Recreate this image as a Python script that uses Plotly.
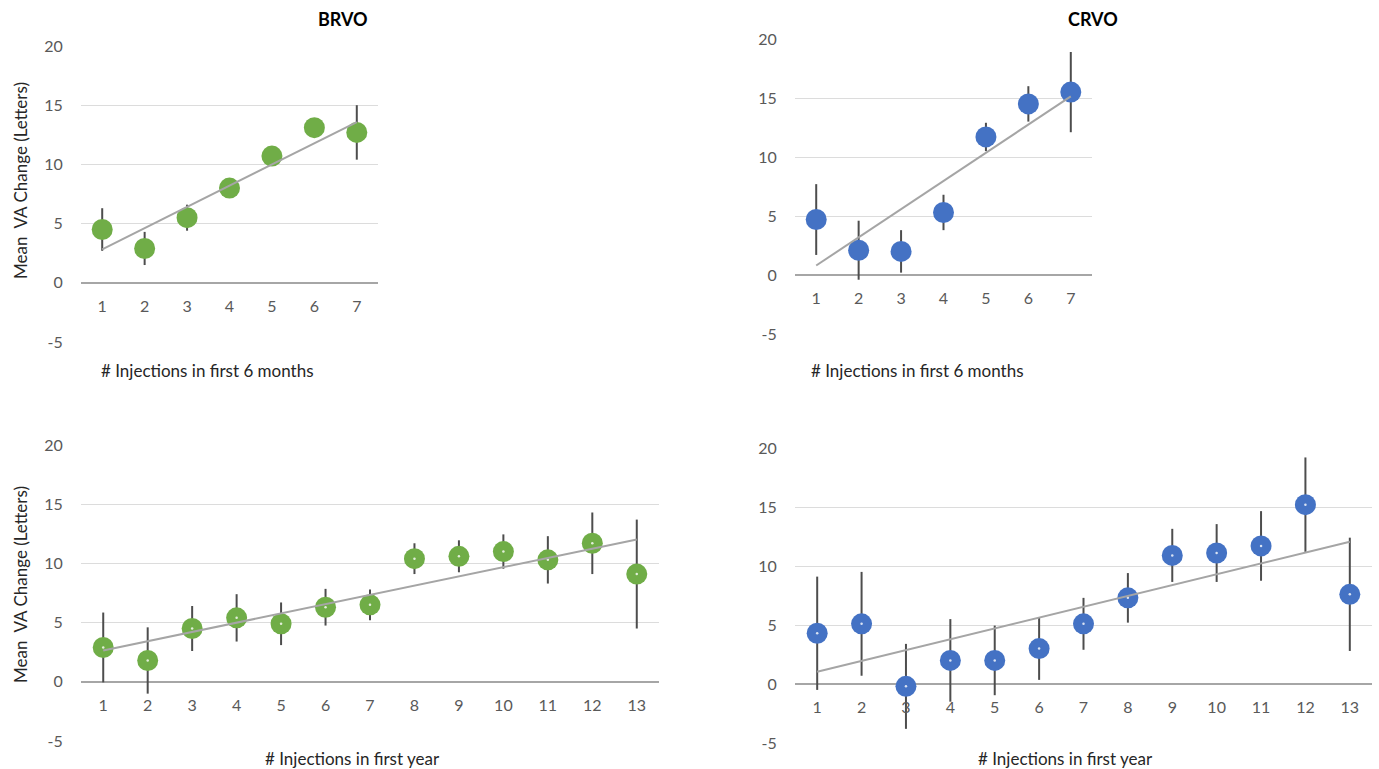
import numpy as np
import plotly.graph_objects as go

# ---------------- data ----------------
inj_6m = [1, 2, 3, 4, 5, 6, 7]
inj_1y = [1, 2, 3, 4, 5, 6, 7, 8, 9, 10, 11, 12, 13]

brvo_6m_mean = [4.5, 2.9, 5.5, 8.0, 10.7, 13.1, 12.7]
brvo_6m_err = [1.8, 1.4, 1.1, 0.7, 0.7, 0.7, 2.3]

crvo_6m_mean = [4.7, 2.1, 2.0, 5.3, 11.7, 14.5, 15.5]
crvo_6m_err = [3.0, 2.5, 1.8, 1.5, 1.2, 1.5, 3.4]

brvo_1y_mean = [2.9, 1.8, 4.5, 5.4, 4.9, 6.3, 6.5, 10.4, 10.6, 11.0, 10.3, 11.7, 9.1]
brvo_1y_err = [2.95, 2.8, 1.9, 2.0, 1.8, 1.55, 1.3, 1.3, 1.35, 1.45, 2.0, 2.6, 4.6]

crvo_1y_mean = [4.3, 5.1, -0.2, 2.0, 2.0, 3.0, 5.1, 7.3, 10.9, 11.1, 11.7, 15.2, 7.6]
crvo_1y_err = [4.8, 4.4, 3.6, 3.5, 2.95, 2.65, 2.2, 2.1, 2.25, 2.45, 2.95, 4.0, 4.8]

y_ticks = [-5, 0, 5, 10, 15, 20]
y_ticklabels = ["-5", "0", "5", "10", "15", "20"]
y_title = "Mean  VA Change (Letters)"
x_title_6m = "# Injections in first 6 months"
x_title_1y = "# Injections in first year"
titles = ["BRVO", "CRVO"]

GREEN = "#70AD47"
BLUE = "#4472C4"
W, H = 1379, 769
FONT = "Lato"

# ---------------- layout geometry (pixels) ----------------
panels = [
    dict(x=inj_6m, y=brvo_6m_mean, e=brvo_6m_err, c=GREEN, px=(81, 378), py=(46, 342), ms=21, dot=False),
    dict(x=inj_6m, y=crvo_6m_mean, e=crvo_6m_err, c=BLUE, px=(795, 1092), py=(39, 334), ms=21, dot=False),
    dict(x=inj_1y, y=brvo_1y_mean, e=brvo_1y_err, c=GREEN, px=(81, 659), py=(445, 741), ms=21, dot=True),
    dict(x=inj_1y, y=crvo_1y_mean, e=crvo_1y_err, c=BLUE, px=(795, 1372), py=(448, 743), ms=21, dot=True),
]

fig = go.Figure()
layout = {}
ymin, ymax = -5, 20

for i, p in enumerate(panels, start=1):
    xa = "x" if i == 1 else f"x{i}"
    ya = "y" if i == 1 else f"y{i}"
    xkey = "xaxis" if i == 1 else f"xaxis{i}"
    ykey = "yaxis" if i == 1 else f"yaxis{i}"

    xd = [p["px"][0] / W, p["px"][1] / W]
    yd = [1 - p["py"][1] / H, 1 - p["py"][0] / H]
    zero_pos = yd[0] + (0 - ymin) / (ymax - ymin) * (yd[1] - yd[0])

    fig.add_trace(go.Scatter(
        x=p["x"], y=p["y"], xaxis=xa, yaxis=ya, mode="markers",
        marker=dict(color=p["c"], size=p["ms"], line=dict(width=0)),
        error_y=dict(type="data", array=p["e"], visible=True, color="#4D4D4D",
                     thickness=2, width=0),
        showlegend=False, hoverinfo="x+y",
    ))
    if p["dot"]:
        fig.add_trace(go.Scatter(
            x=p["x"], y=p["y"], xaxis=xa, yaxis=ya, mode="markers",
            marker=dict(color="rgba(255,255,255,0.8)", size=2.5),
            showlegend=False, hoverinfo="skip",
        ))
    slope, icpt = np.polyfit(p["x"], p["y"], 1)
    tx = [min(p["x"]), max(p["x"])]
    fig.add_trace(go.Scatter(
        x=tx, y=[slope * v + icpt for v in tx], xaxis=xa, yaxis=ya,
        mode="lines", line=dict(color="#A5A5A5", width=2),
        showlegend=False, hoverinfo="skip",
    ))

    n = len(p["x"])
    layout[xkey] = dict(
        domain=xd, range=[0.5, n + 0.5], anchor="free", position=zero_pos,
        tickvals=p["x"], ticktext=[str(v) for v in p["x"]],
        showgrid=False, zeroline=False, showline=False,
        ticks="outside", ticklen=9, tickcolor="rgba(0,0,0,0)",
        tickfont=dict(family=FONT, size=16, color="#595959"),
        fixedrange=True, automargin=False,
    )
    layout[ykey] = dict(
        domain=yd, range=[ymin, ymax], anchor=xa,
        tickvals=y_ticks, ticktext=y_ticklabels,
        showgrid=True, gridcolor="#DCDCDC", gridwidth=1,
        zeroline=True, zerolinecolor="#A6A6A6", zerolinewidth=2,
        showline=False, ticks="outside", ticklen=14, tickcolor="rgba(0,0,0,0)",
        tickfont=dict(family=FONT, size=16, color="#595959"),
        fixedrange=True, automargin=False,
    )

annotations = []
for cy in (181, 585):
    annotations.append(dict(
        text=y_title, x=20 / W, y=1 - cy / H, xref="paper", yref="paper",
        showarrow=False, textangle=-90, xanchor="center", yanchor="middle",
        font=dict(family=FONT, size=17, color="#262626"),
    ))
for txt, cx, cy in ((x_title_6m, 207, 370), (x_title_6m, 917, 370),
                    (x_title_1y, 352, 758), (x_title_1y, 1065, 758)):
    annotations.append(dict(
        text=txt, x=cx / W, y=1 - cy / H, xref="paper", yref="paper",
        showarrow=False, xanchor="center", yanchor="middle",
        font=dict(family=FONT, size=17, color="#262626"),
    ))
for txt, cx in zip(titles, (343, 1093)):
    annotations.append(dict(
        text=f"<b>{txt}</b>", x=cx / W, y=1 - 19 / H, xref="paper", yref="paper",
        showarrow=False, xanchor="center", yanchor="middle",
        font=dict(family=FONT, size=18, color="#000000"),
    ))

fig.update_layout(
    width=W, height=H, margin=dict(l=0, r=0, t=0, b=0, pad=0, autoexpand=False),
    paper_bgcolor="white", plot_bgcolor="white",
    annotations=annotations, **layout,
)

fig.write_html(
    "out.html",
    config={"displayModeBar": False, "responsive": False},
    post_script="document.body.style.margin='0';document.body.style.padding='0';"
                "document.documentElement.style.overflow='hidden';",
)
